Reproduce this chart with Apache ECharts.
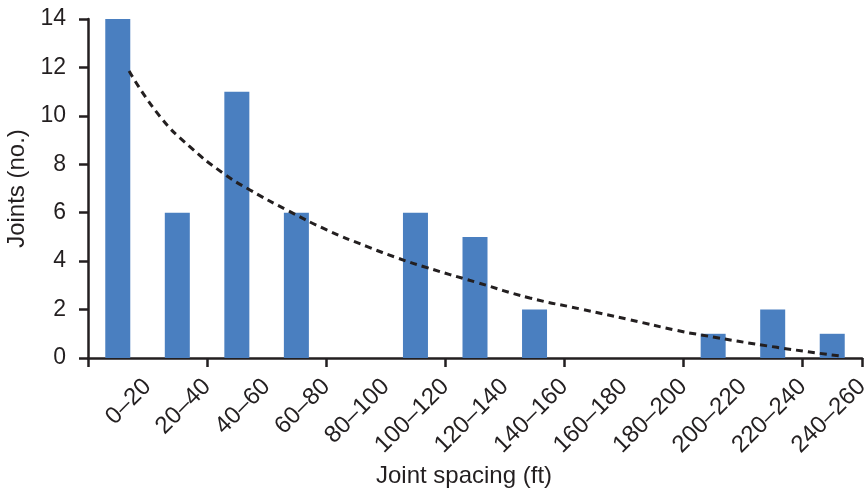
<!DOCTYPE html>
<html>
<head>
<meta charset="utf-8">
<script src="https://cdn.jsdelivr.net/npm/echarts@6/dist/echarts.min.js"></script>
<style>
  html, body { margin: 0; padding: 0; background: #fff; }
  #main { width: 864px; height: 489px; }
</style>
</head>
<body>
<div id="main"></div>
<script>
// joint spacing bins (ft)
var categories = ['0–20', '20–40', '40–60', '60–80', '80–100', '100–120', '120–140',
  '140–160', '160–180', '180–200', '200–220', '220–240', '240–260'];
var joints = [14, 6, 11, 6, 0, 6, 5, 2, 0, 0, 1, 2, 1];
// trend curve: [position in category units, joints]
var trendX = [0.69, 1.21, 1.71, 2.27, 2.72, 3.34, 4.01, 4.68, 5.21, 5.63, 6.53, 7.42, 8.26, 9.10, 9.89, 10.28, 11.57, 12.68];
var trendY = [11.85, 9.97, 8.73, 7.63, 6.94, 6.11, 5.29, 4.61, 4.12, 3.78, 3.12, 2.48, 2.03, 1.58, 1.14, 0.96, 0.44, 0.07];
var yTicks = [0, 2, 4, 6, 8, 10, 12, 14];

var ink = '#231f20';
var font = 'Liberation Sans';

var chart = echarts.init(document.getElementById('main'));

var option = {
  animation: false,
  grid: { left: 88, right: 2, top: 19, bottom: 131, containLabel: false, outerBoundsMode: 'none' },
  xAxis: [
    {
      type: 'category',
      data: categories,
      boundaryGap: true,
      name: 'Joint spacing (ft)',
      nameLocation: 'middle',
      nameGap: 106,
      nameTextStyle: { color: ink, fontSize: 24, fontFamily: font, padding: [0, 22, 0, 0] },
      axisLine: { lineStyle: { color: ink, width: 2.5 } },
      axisTick: { show: true, length: 9, lineStyle: { color: ink, width: 2.5 } },
      axisLabel: { show: false }
    },
    {
      type: 'category',
      data: [''].concat(categories),
      boundaryGap: false,
      position: 'bottom',
      axisLine: { show: false },
      axisTick: { show: false },
      axisLabel: {
        interval: 0,
        rotate: 45,
        margin: 25,
        color: ink,
        fontSize: 24,
        fontFamily: font
      }
    },
    {
      type: 'value',
      min: 0,
      max: categories.length,
      show: false
    }
  ],
  yAxis: {
    type: 'value',
    min: yTicks[0],
    max: yTicks[yTicks.length - 1],
    interval: 2,
    name: 'Joints (no.)',
    nameLocation: 'middle',
    nameGap: 54,
    nameTextStyle: { color: ink, fontSize: 24, fontFamily: font },
    axisLine: { show: true, lineStyle: { color: ink, width: 2.5 } },
    axisTick: { show: true, length: 9, lineStyle: { color: ink, width: 2.5 } },
    axisLabel: { color: ink, fontSize: 23, fontFamily: font, margin: 22 },
    splitLine: { show: false }
  },
  series: [
    {
      type: 'bar',
      xAxisIndex: 0,
      data: joints,
      barWidth: '42%',
      itemStyle: { color: '#4a7fc0' }
    },
    {
      type: 'line',
      xAxisIndex: 2,
      data: trendX.map(function (x, i) { return [x, trendY[i]]; }),
      smooth: true,
      symbol: 'none',
      lineStyle: { color: ink, width: 3, type: [7, 5] },
      z: 5
    }
  ]
};

chart.setOption(option);
</script>
</body>
</html>
